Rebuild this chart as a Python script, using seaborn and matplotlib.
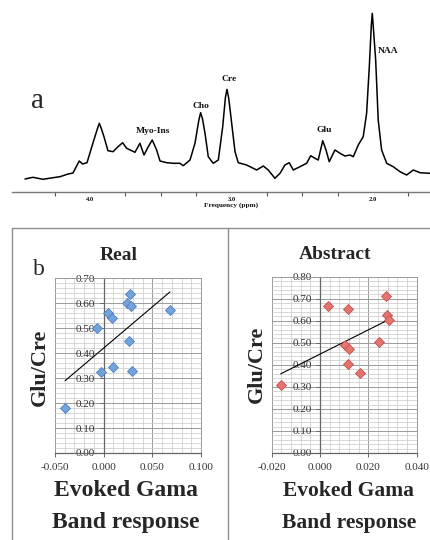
import matplotlib
matplotlib.use("Agg")
import matplotlib.pyplot as plt
from matplotlib.lines import Line2D
from matplotlib.ticker import MultipleLocator, FixedLocator, FixedFormatter
import numpy as np
import pandas as pd
import seaborn as sns

# ---------------- data ----------------
# panel a: MR spectrum (ppm, intensity in arbitrary units)
spec_ppm = [4.459, 4.403, 4.332, 4.261, 4.212, 4.155, 4.120, 4.076, 4.052, 4.021,
            3.979, 3.945, 3.934, 3.922, 3.901, 3.873, 3.837, 3.802, 3.769, 3.741,
            3.705, 3.682, 3.647, 3.618, 3.588, 3.560, 3.529, 3.505, 3.458, 3.411,
            3.364, 3.341, 3.293, 3.258, 3.230, 3.218, 3.205, 3.187, 3.164, 3.129,
            3.093, 3.062, 3.043, 3.032, 3.020, 3.004, 2.975, 2.952, 2.893, 2.822,
            2.775, 2.740, 2.693, 2.657, 2.622, 2.592, 2.563, 2.516, 2.469, 2.440,
            2.410, 2.387, 2.355, 2.332, 2.309, 2.269, 2.233, 2.198, 2.163, 2.139,
            2.104, 2.069, 2.045, 2.026, 2.012, 2.005, 1.998, 1.981, 1.963, 1.939,
            1.903, 1.857, 1.809, 1.762, 1.715, 1.668, 1.597]
spec_int = [12.7, 14.4, 12.4, 14.0, 15.0, 17.7, 18.7, 30.7, 27.7, 29.0,
            48.7, 64.0, 68.4, 64.0, 55.0, 41.0, 40.0, 45.0, 49.0, 43.4,
            41.0, 39.4, 48.4, 36.7, 45.0, 51.7, 41.7, 30.7, 29.0, 28.4,
            28.4, 26.0, 31.7, 48.4, 72.0, 79.0, 73.0, 58.4, 35.0, 28.4,
            31.7, 65.0, 94.0, 102.4, 94.0, 75.0, 40.0, 29.0, 26.7, 21.7,
            25.7, 21.7, 13.4, 18.4, 26.7, 29.0, 21.7, 25.0, 28.4, 36.0,
            33.4, 31.7, 51.0, 41.7, 30.0, 41.7, 38.4, 35.7, 36.7, 35.0,
            46.7, 55.0, 78.4, 125.0, 166.0, 178.4, 165.0, 131.7, 71.7, 41.7,
            28.4, 25.0, 20.0, 16.7, 21.7, 19.0, 18.4]
peak_names = ["Myo-Ins", "Cho", "Cre", "Glu", "NAA"]
peak_ppm = [3.555, 3.218, 3.018, 2.346, 1.896]
peak_lab_y = [60.7, 85.7, 112.7, 61.7, 141.0]
spec_major = [4.0, 3.0, 2.0]
spec_major_labels = ["4.0", "3.0", "2.0"]
spec_minor = [4.25, 3.75, 3.5, 3.25, 2.75, 2.5, 2.25, 1.75]

# panel b: Glu/Cre vs evoked gamma band response
real_x = [-0.0397, -0.0072, 0.0047, 0.0082, -0.0028, 0.0099, 0.0270, 0.0236,
          0.0280, 0.0263, 0.0294, 0.0681]
real_y = [0.181, 0.499, 0.561, 0.539, 0.323, 0.345, 0.639, 0.601,
          0.588, 0.448, 0.329, 0.572]
abs_x = [-0.0163, 0.0034, 0.0117, 0.0103, 0.0120, 0.0117, 0.0166, 0.0244,
         0.0272, 0.0276, 0.0286]
abs_y = [0.309, 0.667, 0.652, 0.490, 0.470, 0.404, 0.364, 0.504,
         0.712, 0.626, 0.603]

real_xticks = [-0.05, 0.0, 0.05, 0.10]
real_xlabels = ["-0.050", "0.000", "0.050", "0.100"]
real_yticks = [0.0, 0.1, 0.2, 0.3, 0.4, 0.5, 0.6, 0.7]
real_ylabels = ["0.00", "0.10", "0.20", "0.30", "0.40", "0.50", "0.60", "0.70"]
abs_xticks = [-0.02, 0.0, 0.02, 0.04]
abs_xlabels = ["-0.020", "0.000", "0.020", "0.040"]
abs_yticks = [0.0, 0.1, 0.2, 0.3, 0.4, 0.5, 0.6, 0.7, 0.8]
abs_ylabels = ["0.00", "0.10", "0.20", "0.30", "0.40", "0.50", "0.60", "0.70", "0.80"]

# ---------------- style ----------------
sns.set_style("white")
plt.rcParams["font.family"] = ["Liberation Serif", "DejaVu Serif"]
plt.rcParams["axes.unicode_minus"] = False

W, H = 431, 540
fig = plt.figure(figsize=(W / 100, H / 100), dpi=100)


def fx(x):
    return x / W


def fy(y):
    return 1 - y / H


# ---------------- panel a ----------------
ax0 = fig.add_axes([fx(12), fy(191.7), 1 - fx(12), 191.7 / H])
spec = pd.DataFrame({"ppm": spec_ppm, "int": spec_int})
sns.lineplot(data=spec, x="ppm", y="int", ax=ax0, color="black", lw=1.1,
             sort=False, estimator=None)
ax0.set_xlim(4.551, 1.590)
ax0.set_ylim(0, 191.7)
for s in ["top", "right", "left"]:
    ax0.spines[s].set_visible(False)
ax0.spines["bottom"].set_color("#777777")
ax0.spines["bottom"].set_linewidth(1.0)
ax0.set_yticks([])
ax0.xaxis.set_major_locator(FixedLocator(spec_major))
ax0.xaxis.set_major_formatter(FixedFormatter(spec_major_labels))
ax0.xaxis.set_minor_locator(FixedLocator(spec_minor))
ax0.tick_params(axis="x", which="major", length=0, pad=4, labelsize=4.8,
                labelcolor="#111111")
ax0.tick_params(axis="x", which="minor", length=3, width=0.8, color="#555555",
                direction="out", bottom=True)
for lab in ax0.get_xticklabels():
    lab.set_fontweight("bold")
ax0.set_xlabel("")
ax0.set_ylabel("")
for name, xp, yp in zip(peak_names, peak_ppm, peak_lab_y):
    ax0.text(xp, yp, name, ha="center", va="center", fontsize=6.8,
             fontweight="bold", color="#111111")
fig.text(fx(231), fy(205), "Frequency (ppm)", ha="center", va="center",
         fontsize=5.2, fontweight="bold", color="#111111")
fig.text(fx(37.5), fy(101.5), "a", ha="center", va="center", fontsize=21)

# ---------------- panel b frames ----------------
frame_kw = dict(color="#8c8c8c", lw=1.0, transform=fig.transFigure)
fig.add_artist(Line2D([fx(12), 1], [fy(228), fy(228)], **frame_kw))
fig.add_artist(Line2D([fx(12), fx(12)], [fy(228), 0], **frame_kw))
fig.add_artist(Line2D([fx(228), fx(228)], [fy(228), 0], **frame_kw))
fig.text(fx(38.5), fy(269.5), "b", ha="center", va="center", fontsize=17)


def scatter_panel(rect, xs, ys, fill, edge, xlim, ylim, xticks, xlabels,
                  yticks, ylabels, xminor, yminor):
    ax = fig.add_axes(rect)
    df = pd.DataFrame({"x": xs, "y": ys})
    sns.regplot(data=df, x="x", y="y", ax=ax, scatter=False, ci=None,
                truncate=True, line_kws=dict(color="black", lw=0.8, zorder=3))
    sns.scatterplot(data=df, x="x", y="y", ax=ax, marker="D", s=26,
                    color=fill, edgecolor=edge, linewidth=0.6, zorder=4)
    ax.set_xlim(*xlim)
    ax.set_ylim(*ylim)
    ax.set_xticks(xticks)
    ax.set_xticklabels(xlabels)
    ax.set_yticks(yticks)
    ax.set_yticklabels(ylabels)
    ax.xaxis.set_minor_locator(MultipleLocator(xminor))
    ax.yaxis.set_minor_locator(MultipleLocator(yminor))
    ax.grid(True, which="major", color="#9a9a9a", lw=0.7)
    ax.grid(True, which="minor", color="#c8c8c8", lw=0.5)
    ax.set_axisbelow(True)
    for s in ["top", "right"]:
        ax.spines[s].set_color("#9a9a9a")
        ax.spines[s].set_linewidth(0.7)
    ax.spines["left"].set_position(("data", 0))
    ax.spines["left"].set_color("#666666")
    ax.spines["bottom"].set_color("#666666")
    ax.spines["left"].set_linewidth(0.9)
    ax.spines["bottom"].set_linewidth(0.9)
    ax.tick_params(axis="y", which="major", length=3, width=0.7, color="#666666",
                   direction="out", left=True, pad=3, labelsize=8,
                   labelcolor="#333333")
    ax.tick_params(axis="x", which="major", length=3, width=0.7, color="#666666",
                   direction="out", bottom=True, pad=4, labelsize=8,
                   labelcolor="#333333")
    ax.tick_params(which="minor", length=0)
    ax.set_xlabel("")
    ax.set_ylabel("")
    return ax


scatter_panel([fx(55), fy(453), (201 - 55) / W, (453 - 278.3) / H],
              real_x, real_y, "#74a3dc", "#4f7fbf",
              (-0.05, 0.10), (0.0, 0.70), real_xticks, real_xlabels,
              real_yticks, real_ylabels, 0.01, 0.02)
scatter_panel([fx(271.7), fy(453), (416.7 - 271.7) / W, (453 - 276.7) / H],
              abs_x, abs_y, "#e5736e", "#c4504c",
              (-0.02, 0.04), (0.0, 0.80), abs_xticks, abs_xlabels,
              abs_yticks, abs_ylabels, 0.004, 0.02)

# titles and axis labels
fig.text(fx(119), fy(260), "Real", ha="center", va="baseline", fontsize=14,
         fontweight="bold")
fig.text(fx(335), fy(259), "Abstract", ha="center", va="baseline", fontsize=14,
         fontweight="bold")
fig.text(fx(40), fy(367), "Glu/Cre", ha="center", va="center", rotation=90,
         fontsize=16, fontweight="bold")
fig.text(fx(257), fy(364), "Glu/Cre", ha="center", va="center", rotation=90,
         fontsize=16, fontweight="bold")
fig.text(fx(126), fy(496), "Evoked Gama", ha="center", va="baseline",
         fontsize=17, fontweight="bold")
fig.text(fx(126), fy(528), "Band response", ha="center", va="baseline",
         fontsize=17, fontweight="bold")
fig.text(fx(349), fy(496), "Evoked Gama", ha="center", va="baseline",
         fontsize=15.5, fontweight="bold")
fig.text(fx(349), fy(528), "Band response", ha="center", va="baseline",
         fontsize=15.5, fontweight="bold")

fig.savefig("out.png", dpi=100)
